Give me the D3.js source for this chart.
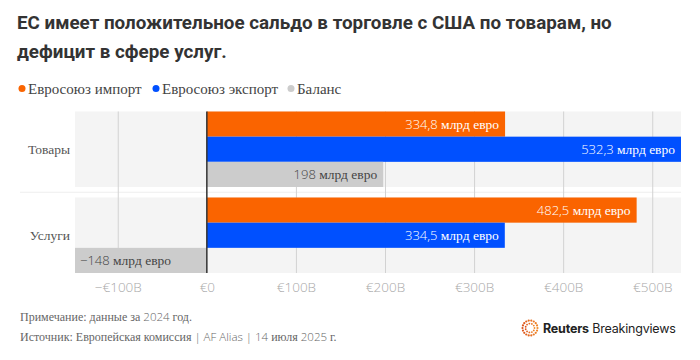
<!DOCTYPE html>
<html><head><meta charset="utf-8">
<script src="https://cdn.jsdelivr.net/npm/d3@7"></script>
<style>
html,body{margin:0;padding:0;background:#fff;}
svg{display:block;}
.serif{font-family:"Liberation Serif","Times New Roman","DejaVu Serif",serif;}
.sans{font-family:"Open Sans","Noto Sans",sans-serif;font-weight:300;}
</style></head>
<body>
<svg id="chart" width="700" height="360"></svg>
<script>
const categories = ["Товары", "Услуги"];
const seriesNames = ["Евросоюз импорт", "Евросоюз экспорт", "Баланс"];
const importValues = [334.8, 482.5];
const exportValues = [532.3, 334.5];
const balanceValues = [198, -148];
const valueLabels = [
  ["334,8", "532,3", "198"],
  ["482,5", "334,5", "−148"]
];
const tickValues = [-100, 0, 100, 200, 300, 400, 500];
const tickLabels = ["−€100B", "€0", "€100B", "€200B", "€300B", "€400B", "€500B"];
const colors = ["#fa6400", "#0050ff", "#cccccc"];

const svg = d3.select("#chart");

// title
const title = svg.append("g").style("font-family", "Roboto, 'Noto Sans', sans-serif")
  .attr("font-weight", 700).attr("fill", "#333");
const t1 = title.append("text").attr("x", 17).attr("y", 29).attr("font-size", 18)
  .text("ЕС имеет положительное сальдо в торговле с США по товарам, но");
const t2 = title.append("text").attr("x", 17).attr("y", 58).attr("font-size", 18)
  .text("дефицит в сфере услуг.");
const len = t1.node().getComputedTextLength();
const fs = 18 * 595 / len;
t1.attr("font-size", fs); t2.attr("font-size", fs);

// legend
const legendX = [22, 156, 291];
const lg = svg.append("g");
seriesNames.forEach((n, i) => {
  lg.append("circle").attr("cx", legendX[i]).attr("cy", 88.5).attr("r", 3.5).attr("fill", colors[i]);
  lg.append("text").attr("class", "serif").attr("x", legendX[i] + 6).attr("y", 93.5)
    .attr("font-size", 15).attr("fill", "#444").text(n);
});

// data rows
const data = categories.map((c, i) => ({
  cat: c,
  vals: [importValues[i], exportValues[i], balanceValues[i]],
  labels: valueLabels[i]
}));
const allVals = importValues.concat(exportValues, balanceValues);
const x = d3.scaleLinear().domain(d3.extent(allVals)).range([75, 681]);
const y = d3.scaleBand().domain(categories).range([111.5, 273]).paddingInner(0.122);
const ys = d3.scaleBand().domain(d3.range(3)).range([0, y.bandwidth()]);

const plot = svg.append("g");
plot.selectAll("rect.bg").data(categories).join("rect").attr("class", "bg")
  .attr("x", x.range()[0]).attr("width", x.range()[1] - x.range()[0])
  .attr("y", d => y(d)).attr("height", y.bandwidth()).attr("fill", "#f4f4f4");
const gapMid = (y(categories[0]) + y.bandwidth() + y(categories[1])) / 2;
plot.append("line").attr("x1", 20).attr("x2", 681).attr("y1", gapMid).attr("y2", gapMid)
  .attr("stroke", "#eeeeee").attr("stroke-width", 1);

const axis = d3.axisBottom(x).tickValues(tickValues).tickFormat((d, i) => tickLabels[i])
  .tickSize(-(y.range()[1] - y.range()[0])).tickSizeOuter(0).tickPadding(9);
const ag = plot.append("g").attr("transform", `translate(0,${y.range()[1]})`).call(axis);
ag.select(".domain").remove();
ag.attr("font-family", null);
ag.selectAll(".tick line").attr("stroke", d => d === 0 ? "none" : "#d2d2d2").attr("stroke-width", 1);
ag.selectAll(".tick text").attr("class", "sans").attr("font-size", 13.5).attr("fill", "#a8a8a8");

const groups = plot.selectAll("g.grp").data(data).join("g").attr("class", "grp")
  .attr("transform", d => `translate(0,${y(d.cat)})`);
groups.each(function(d) {
  const g = d3.select(this);
  d.vals.forEach((v, i) => {
    g.append("rect").attr("x", x(Math.min(0, v))).attr("width", Math.abs(x(v) - x(0)))
      .attr("y", ys(i)).attr("height", ys.bandwidth()).attr("fill", colors[i]);
    const neg = v < 0;
    const tx = g.append("text")
      .attr("x", neg ? x(v) + 5 : x(v) - 6)
      .attr("y", ys(i) + ys.bandwidth() / 2 + 4.5)
      .attr("text-anchor", neg ? "start" : "end")
      .attr("font-size", 12.5)
      .attr("fill", i === 2 ? "#444" : "#fff");
    tx.append("tspan").attr("class", "sans").attr("font-size", 13).text(d.labels[i]);
    tx.append("tspan").attr("class", "serif").attr("font-size", 13.5).text(" млрд евро");
  });
});
plot.append("line").attr("x1", x(0)).attr("x2", x(0)).attr("y1", y.range()[0]).attr("y2", y.range()[1])
  .attr("stroke", "#333").attr("stroke-width", 1.5);

plot.selectAll("text.cat").data(categories).join("text").attr("class", "cat serif")
  .attr("x", 70).attr("y", d => y(d) + y.bandwidth() / 2 + 5)
  .attr("text-anchor", "end").attr("font-size", 13.5)
  .attr("fill", "#555").text(d => d);

// footer
const foot = svg.append("g").attr("fill", "#666").attr("font-size", 12);
const f1 = foot.append("text").attr("x", 20).attr("y", 321);
f1.append("tspan").attr("class", "serif").text("Примечание: данные за ");
f1.append("tspan").attr("class", "sans").attr("font-size", 11.5).text("2024");
f1.append("tspan").attr("class", "serif").text(" год.");
const f2 = foot.append("text").attr("x", 20).attr("y", 341);
f2.append("tspan").attr("class", "serif").text("Источник: Европейская комиссия ");
f2.append("tspan").attr("class", "sans").attr("font-size", 11.5).text("| AF Alias | 14 ");
f2.append("tspan").attr("class", "serif").text("июля ");
f2.append("tspan").attr("class", "sans").attr("font-size", 11.5).text("2025");
f2.append("tspan").attr("class", "serif").text(" г.");

// logo
const logo = svg.append("g").attr("transform", "translate(530,328)");
const ringCols = d3.scaleLinear().domain([0, 0.5, 1]).range(["#f28c28", "#d9501e", "#f28c28"]);
[[7.5, 18, 1.1], [4.5, 11, 0.9]].forEach(([r, n, dr]) => {
  d3.range(n).forEach(k => {
    const a = k / n * 2 * Math.PI;
    logo.append("circle").attr("cx", r * Math.cos(a)).attr("cy", r * Math.sin(a)).attr("r", dr)
      .attr("fill", ringCols(k / n));
  });
});
const lt = logo.append("text").attr("x", 13).attr("y", 5).style("font-family", "Inter, Roboto, sans-serif")
  .attr("font-size", 12.5).attr("fill", "#222").attr("letter-spacing", -0.2);
lt.append("tspan").attr("font-weight", 700).text("Reuters");
lt.append("tspan").attr("font-weight", 400).text(" Breakingviews");
</script>
</body></html>
